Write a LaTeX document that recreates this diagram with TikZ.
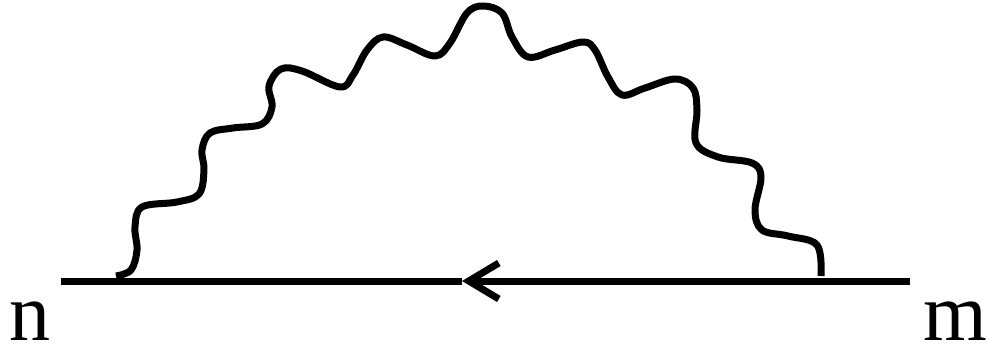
\documentclass[tikz,border=0pt]{standalone}
\usepackage{fontspec}
\setmainfont{Liberation Serif}
\usetikzlibrary{positioning, arrows.meta}

\begin{document}
\begin{tikzpicture}[
        x=1pt, y=-1pt,
        fermion/.style={line width=7pt},
        fermion_arrow/.style={fermion, -{Straight Barb[length=30pt, width=36pt, line width=7pt]}},
        photon/.style={line width=7pt, line join=round},
        index/.style={inner sep=0pt, font=\fontsize{82pt}{82pt}\selectfont}
    ]
    \useasboundingbox (0,0) rectangle (989,345);

    \coordinate (left_end) at (61,281);
    \coordinate (right_end) at (910,281);
    \coordinate (arrow_tip) at (462,281);
    \coordinate (vertex_n) at (116,276);
    \coordinate (vertex_m) at (821,276);

    \node[index, below left=21pt and 10pt of left_end] (n) {n};
    \node[index, below right=21pt and 13pt of right_end] (m) {m};

    \draw[fermion] (left_end) -- (arrow_tip);
    \draw[fermion_arrow] (right_end) -- (arrow_tip);

    \draw[photon] plot[smooth, tension=0.6] coordinates {(vertex_n) (131,270) (137,250) (135,227) (142,207) (177,202) (199,194) (204,170) (202,150) (210,133) (233,128) (262,124) (272,107) (269,86) (281,69) (302,71) (340,87) (353,75) (367,50) (383,37) (407,45) (435,56) (450,43) (467,13) (483,6) (502,13) (512,37) (528,57) (555,50) (583,42) (595,50) (608,77) (622,95) (645,88) (675,79) (693,88) (697,110) (696,143) (718,157) (752,163) (761,177) (755,210) (762,230) (788,236) (817,245) (vertex_m)};

\end{tikzpicture}
\end{document}
